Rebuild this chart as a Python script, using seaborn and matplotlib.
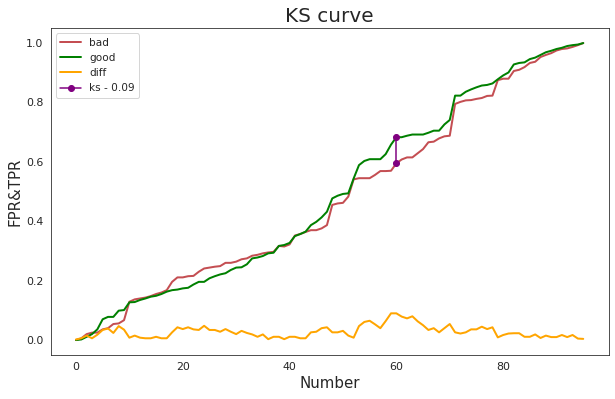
import seaborn as sns
import matplotlib.pyplot as plt
import numpy as np

number = list(range(96))

bad = [0.0, 0.006, 0.02, 0.025, 0.025, 0.036, 0.04, 0.054, 0.056, 0.067,
       0.129, 0.137, 0.14, 0.143, 0.148, 0.155, 0.16, 0.168, 0.196, 0.211,
       0.211, 0.215, 0.216, 0.23, 0.241, 0.244, 0.247, 0.249, 0.26, 0.26,
       0.264, 0.272, 0.275, 0.284, 0.287, 0.292, 0.295, 0.297, 0.317, 0.315,
       0.322, 0.352, 0.357, 0.364, 0.37, 0.37, 0.376, 0.387, 0.455, 0.46,
       0.462, 0.483, 0.541, 0.545, 0.545, 0.545, 0.556, 0.569, 0.569, 0.57,
       0.595, 0.608, 0.615, 0.615, 0.629, 0.643, 0.666, 0.668, 0.679, 0.686,
       0.688, 0.795, 0.802, 0.807, 0.808, 0.812, 0.815, 0.822, 0.823, 0.875,
       0.88, 0.88, 0.906, 0.91, 0.919, 0.933, 0.937, 0.953, 0.96, 0.966,
       0.975, 0.98, 0.982, 0.987, 0.993, 1.0]

good = [0.0, 0.002, 0.011, 0.02, 0.036, 0.07, 0.078, 0.078, 0.099, 0.101,
        0.127, 0.128, 0.135, 0.14, 0.146, 0.149, 0.155, 0.163, 0.168, 0.17,
        0.174, 0.176, 0.187, 0.196, 0.196, 0.208, 0.215, 0.221, 0.225, 0.236,
        0.244, 0.245, 0.255, 0.275, 0.278, 0.283, 0.292, 0.294, 0.317, 0.32,
        0.327, 0.35, 0.357, 0.365, 0.387, 0.398, 0.413, 0.432, 0.477, 0.486,
        0.492, 0.494, 0.544, 0.589, 0.603, 0.609, 0.609, 0.609, 0.626, 0.658,
        0.683, 0.683, 0.688, 0.692, 0.692, 0.692, 0.698, 0.705, 0.705, 0.726,
        0.741, 0.823, 0.823, 0.836, 0.844, 0.851, 0.857, 0.859, 0.864, 0.878,
        0.891, 0.901, 0.928, 0.933, 0.935, 0.946, 0.951, 0.96, 0.969, 0.974,
        0.98, 0.984, 0.99, 0.993, 0.995, 1.0]

diff = [0.002, 0.006, 0.015, 0.006, 0.018, 0.034, 0.039, 0.024, 0.047, 0.035,
        0.008, 0.015, 0.008, 0.006, 0.006, 0.011, 0.006, 0.006, 0.026, 0.043,
        0.037, 0.043, 0.036, 0.034, 0.048, 0.034, 0.034, 0.028, 0.037, 0.028,
        0.02, 0.031, 0.024, 0.019, 0.011, 0.019, 0.003, 0.011, 0.011, 0.003,
        0.011, 0.011, 0.006, 0.006, 0.026, 0.028, 0.04, 0.043, 0.026, 0.026,
        0.031, 0.015, 0.008, 0.047, 0.061, 0.065, 0.053, 0.04, 0.064, 0.09,
        0.09, 0.079, 0.073, 0.08, 0.063, 0.05, 0.034, 0.04, 0.026, 0.04,
        0.054, 0.026, 0.022, 0.026, 0.036, 0.036, 0.045, 0.037, 0.043, 0.009,
        0.017, 0.022, 0.023, 0.023, 0.011, 0.011, 0.019, 0.007, 0.015, 0.01,
        0.01, 0.017, 0.01, 0.017, 0.005, 0.004]

ks_x = 60
ks_label = 'ks - 0.09'

sns.set_style('white')
fig = plt.figure(figsize=(615 / 72, 399 / 72), dpi=72)
ax = fig.add_axes([0.0823, 0.1105, 0.9073, 0.8188])

sns.lineplot(x=number, y=bad, color='#c44e52', linewidth=2, label='bad', ax=ax)
sns.lineplot(x=number, y=good, color='green', linewidth=2, label='good', ax=ax)
sns.lineplot(x=number, y=diff, color='orange', linewidth=2, label='diff', ax=ax)
ax.plot([ks_x, ks_x], [bad[ks_x], good[ks_x]], color='purple', marker='o',
        markersize=6, linewidth=1.5, label=ks_label)

ax.set_title('KS curve', fontsize=20)
ax.set_xlabel('Number', fontsize=15)
ax.set_ylabel('FPR&TPR', fontsize=15)
ax.tick_params(labelsize=11)
ax.legend(loc='upper left', fontsize=10.5)
for s in ax.spines.values():
    s.set_color('#262626')

fig.savefig('out.png', dpi=72)
